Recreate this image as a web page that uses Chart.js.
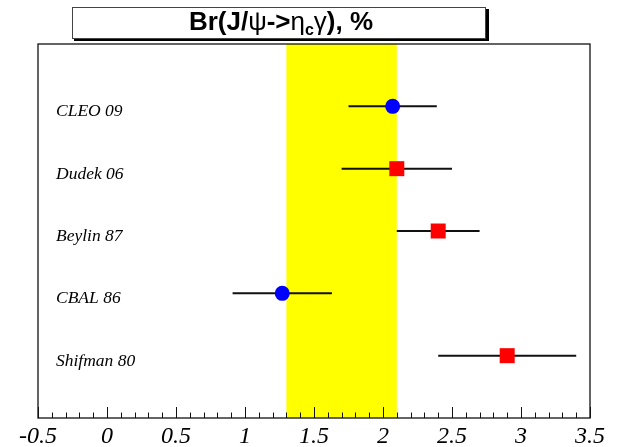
<!DOCTYPE html>
<html>
<head>
<meta charset="utf-8">
<script src="https://cdn.jsdelivr.net/npm/chart.js"></script>
<style>
  body { margin: 0; background: #fff; }
  canvas { display: block; }
</style>
</head>
<body>
<canvas id="chart" width="621" height="447"></canvas>
<script>
// measurements, top to bottom
let categories = ["CLEO 09", "Dudek 06", "Beylin 87", "CBAL 86", "Shifman 80"];
let values = [2.07, 2.1, 2.4, 1.27, 2.9];
let errLow = [1.75, 1.7, 2.1, 0.91, 2.4];
let errHigh = [2.39, 2.5, 2.7, 1.63, 3.4];
let isExperiment = [true, false, false, true, false];
let band = [1.3, 2.1];
let xTicks = [-0.5, 0, 0.5, 1, 1.5, 2, 2.5, 3, 3.5];

const rowY = categories.map((c, i) => categories.length - i);

const points = values.map((v, i) => ({ x: v, y: rowY[i] }));
const errorSets = values.map((v, i) => ({
  type: "line",
  data: [
    { x: errLow[i], y: rowY[i] },
    { x: errHigh[i], y: rowY[i] },
  ],
  borderColor: "#111",
  borderWidth: 2,
  pointRadius: 0,
  showLine: true,
}));

const bandPlugin = {
  id: "band",
  beforeDatasetsDraw(chart) {
    const { ctx, chartArea, scales } = chart;
    const x1 = scales.x.getPixelForValue(band[0]);
    const x2 = scales.x.getPixelForValue(band[1]);
    ctx.save();
    ctx.fillStyle = "#ffff00";
    ctx.fillRect(x1, chartArea.top, x2 - x1, chartArea.bottom - chartArea.top);
    ctx.restore();
  },
};

const framePlugin = {
  id: "frame",
  afterDraw(chart) {
    const { ctx, chartArea, scales } = chart;
    ctx.save();
    // ticks pointing inwards
    ctx.strokeStyle = "#111";
    ctx.lineWidth = 1;
    for (let k = -5; k <= 35; k++) {
      const x = Math.round(scales.x.getPixelForValue(k / 10)) + 0.5;
      const len = k % 5 === 0 ? 11 : 5.5;
      ctx.beginPath();
      ctx.moveTo(x, chartArea.bottom);
      ctx.lineTo(x, chartArea.bottom - len);
      ctx.stroke();
    }
    ctx.lineWidth = 1.3;
    ctx.strokeRect(chartArea.left, chartArea.top, chartArea.right - chartArea.left, chartArea.bottom - chartArea.top);

    // row labels
    ctx.fillStyle = "#000";
    ctx.font = 'italic 17.5px "Liberation Serif"';
    ctx.textAlign = "left";
    ctx.textBaseline = "alphabetic";
    categories.forEach((c, i) => {
      ctx.fillText(c, 56, scales.y.getPixelForValue(rowY[i]) + 10);
    });

    // title box with shadow
    ctx.fillStyle = "#000";
    ctx.fillRect(74, 9, 415, 32);
    ctx.fillStyle = "#fff";
    ctx.fillRect(72, 7, 414, 32);
    ctx.lineWidth = 1;
    ctx.strokeStyle = "#444";
    ctx.strokeRect(72.5, 7.5, 413, 31);

    const parts = [
      { t: "Br(J/", f: 'bold 26px "Liberation Sans"', dy: 0 },
      { t: "ψ", f: '26px "Liberation Sans"', dy: 0 },
      { t: "->", f: 'bold 26px "Liberation Sans"', dy: 0 },
      { t: "η", f: '26px "Liberation Sans"', dy: 0 },
      { t: "c", f: 'bold 16px "Liberation Sans"', dy: 5 },
      { t: "γ", f: '26px "Liberation Sans"', dy: 0 },
      { t: "), %", f: 'bold 26px "Liberation Sans"', dy: 0 },
    ];
    let total = 0;
    parts.forEach((p) => {
      ctx.font = p.f;
      p.w = ctx.measureText(p.t).width;
      total += p.w;
    });
    let x = 281 - total / 2;
    ctx.fillStyle = "#000";
    parts.forEach((p) => {
      ctx.font = p.f;
      ctx.fillText(p.t, x, 30 + p.dy);
      x += p.w;
    });
    ctx.restore();
  },
};

new Chart("chart", {
  type: "scatter",
  data: {
    datasets: [
      {
        data: points,
        pointStyle: isExperiment.map((e) => (e ? "circle" : "rect")),
        pointRadius: isExperiment.map((e) => (e ? 7.5 : 10.6)),
        backgroundColor: isExperiment.map((e) => (e ? "#0000ff" : "#ff0000")),
        borderWidth: 0,
      },
      ...errorSets,
    ],
  },
  options: {
    responsive: false,
    animation: false,
    layout: { padding: { top: 44, left: 38, right: 31, bottom: 0 } },
    plugins: {
      legend: { display: false },
      tooltip: { enabled: false },
    },
    scales: {
      x: {
        type: "linear",
        min: -0.5,
        max: 3.5,
        afterBuildTicks: (s) => {
          s.ticks = xTicks.map((v) => ({ value: v }));
        },
        grid: { display: false },
        border: { display: false },
        ticks: {
          padding: -4,
          color: "#000",
          font: { family: "Liberation Serif", style: "italic", size: 24 },
          callback: (v) => String(v),
        },
        afterFit: (s) => {
          s.height = 29;
        },
      },
      y: {
        display: false,
        min: 0,
        max: 6,
      },
    },
  },
  plugins: [bandPlugin, framePlugin],
});
</script>
</body>
</html>
